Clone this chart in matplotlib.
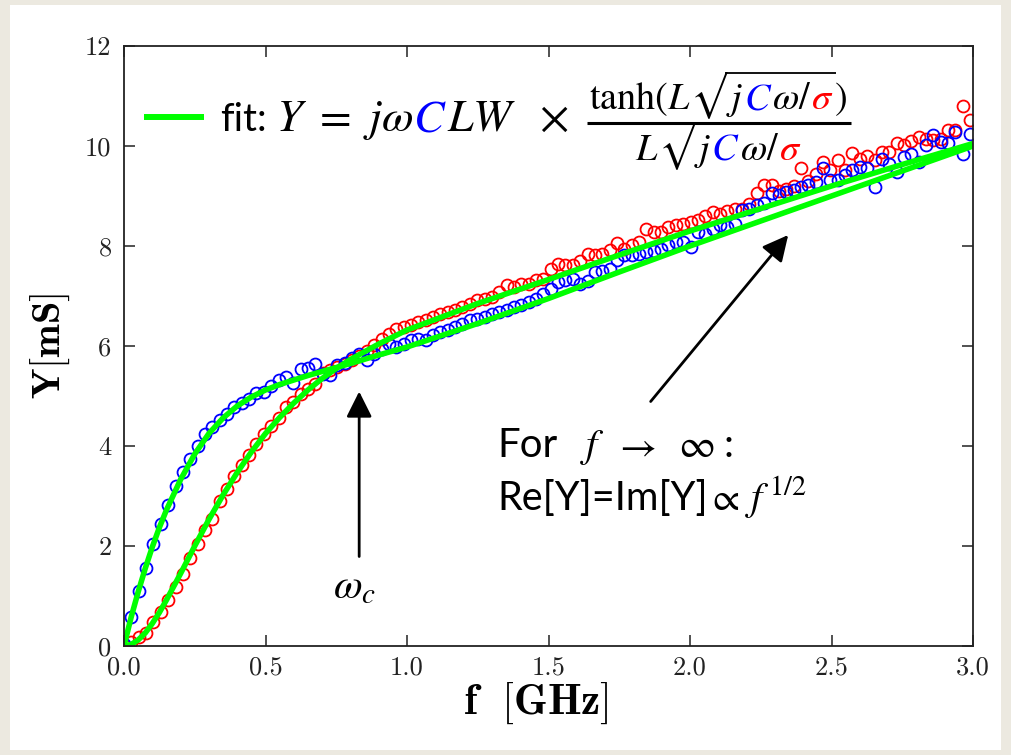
import numpy as np
import matplotlib
matplotlib.use('Agg')
import matplotlib.pyplot as plt
from matplotlib.lines import Line2D
from matplotlib.patches import Rectangle

plt.rcParams['mathtext.fontset'] = 'stix'

# frequency sweep [GHz]
freq = [0.000, 0.026, 0.052, 0.078, 0.104, 0.130, 0.156, 0.182, 0.208, 0.234,
        0.260, 0.286, 0.312, 0.338, 0.364, 0.390, 0.416, 0.442, 0.468, 0.494,
        0.520, 0.546, 0.572, 0.598, 0.624, 0.650, 0.676, 0.702, 0.728, 0.754,
        0.780, 0.806, 0.832, 0.858, 0.884, 0.910, 0.936, 0.962, 0.988, 1.014,
        1.040, 1.066, 1.092, 1.118, 1.144, 1.170, 1.196, 1.222, 1.248, 1.274,
        1.300, 1.326, 1.352, 1.378, 1.404, 1.430, 1.456, 1.482, 1.508, 1.534,
        1.560, 1.586, 1.612, 1.638, 1.664, 1.690, 1.716, 1.742, 1.768, 1.794,
        1.820, 1.846, 1.872, 1.898, 1.924, 1.950, 1.976, 2.002, 2.028, 2.054,
        2.080, 2.106, 2.132, 2.158, 2.184, 2.210, 2.236, 2.262, 2.288, 2.314,
        2.340, 2.366, 2.392, 2.418, 2.444, 2.470, 2.496, 2.522, 2.548, 2.574,
        2.600, 2.626, 2.652, 2.678, 2.704, 2.730, 2.756, 2.782, 2.808, 2.834,
        2.860, 2.886, 2.912, 2.938, 2.964, 2.990]

# measured admittance [mS]: real part (red) and imaginary part (blue)
re_y = [0.02, 0.09, 0.19, 0.27, 0.48, 0.68, 0.92, 1.19, 1.44, 1.77,
        2.04, 2.32, 2.55, 2.90, 3.15, 3.40, 3.62, 3.83, 4.04, 4.24,
        4.40, 4.56, 4.78, 4.88, 5.05, 5.15, 5.24, 5.47, 5.53, 5.59,
        5.65, 5.72, 5.80, 5.90, 6.02, 6.15, 6.25, 6.35, 6.39, 6.42,
        6.49, 6.52, 6.59, 6.65, 6.69, 6.72, 6.78, 6.85, 6.92, 6.95,
        6.99, 7.09, 7.22, 7.19, 7.25, 7.25, 7.32, 7.35, 7.55, 7.65,
        7.62, 7.62, 7.70, 7.85, 7.82, 7.85, 7.92, 8.05, 7.95, 8.02,
        8.09, 8.35, 8.29, 8.29, 8.39, 8.42, 8.45, 8.49, 8.52, 8.60,
        8.69, 8.65, 8.70, 8.75, 8.75, 8.85, 9.05, 9.22, 9.22, 9.10,
        9.15, 9.20, 9.55, 9.30, 9.45, 9.69, 9.52, 9.73, 9.52, 9.87,
        9.75, 9.80, 9.72, 9.89, 9.89, 10.07, 10.02, 10.10, 10.19, 10.15,
        10.12, 10.15, 10.32, 10.33, 10.80, 10.52]
im_y = [0.05, 0.59, 1.10, 1.57, 2.05, 2.45, 2.83, 3.21, 3.49, 3.75,
        4.00, 4.24, 4.39, 4.53, 4.64, 4.79, 4.87, 4.95, 5.07, 5.09,
        5.20, 5.33, 5.39, 5.27, 5.55, 5.57, 5.65, 5.45, 5.42, 5.62,
        5.66, 5.77, 5.84, 5.73, 5.85, 5.95, 6.05, 5.99, 6.04, 6.12,
        6.15, 6.12, 6.22, 6.29, 6.32, 6.39, 6.45, 6.52, 6.55, 6.59,
        6.65, 6.69, 6.72, 6.79, 6.82, 6.89, 6.95, 7.05, 7.15, 7.29,
        7.33, 7.35, 7.24, 7.30, 7.49, 7.50, 7.55, 7.72, 7.82, 7.83,
        7.85, 7.89, 7.90, 7.95, 8.02, 8.09, 8.09, 7.99, 8.29, 8.25,
        8.35, 8.42, 8.38, 8.45, 8.72, 8.75, 8.82, 8.86, 9.05, 9.02,
        9.09, 9.12, 9.19, 9.22, 9.29, 9.55, 9.32, 9.32, 9.42, 9.52,
        9.59, 9.55, 9.19, 9.75, 9.65, 9.49, 9.79, 9.85, 9.69, 10.02,
        10.22, 10.09, 10.05, 10.29, 9.85, 10.25]

# fitted transmission-line model, sampled
fit_f = [0.0, 0.025, 0.05, 0.075, 0.1, 0.125, 0.15, 0.2, 0.25, 0.3,
         0.35, 0.4, 0.45, 0.5, 0.55, 0.6, 0.65, 0.7, 0.75, 0.8,
         0.9, 1.0, 1.25, 1.5, 1.75, 2.0, 2.25, 2.5, 2.75, 3.0]
fit_re = [0.0, 0.03, 0.12, 0.26, 0.45, 0.67, 0.92, 1.45, 2.00, 2.53,
          3.02, 3.47, 3.88, 4.25, 4.57, 4.86, 5.12, 5.35, 5.55, 5.73,
          6.04, 6.32, 6.85, 7.33, 7.82, 8.30, 8.75, 9.20, 9.63, 10.05]
fit_im = [0.0, 0.57, 1.08, 1.55, 1.98, 2.37, 2.72, 3.33, 3.84, 4.25,
          4.56, 4.80, 4.98, 5.12, 5.23, 5.32, 5.41, 5.49, 5.57, 5.65,
          5.82, 5.98, 6.45, 6.95, 7.48, 8.00, 8.50, 9.00, 9.50, 10.00]

xticks = [0.0, 0.5, 1.0, 1.5, 2.0, 2.5, 3.0]
yticks = [0, 2, 4, 6, 8, 10, 12]

W, H = 1011, 755
GREEN = '#00ff00'
SANS = 'Lato'

fig = plt.figure(figsize=(W / 100, H / 100), dpi=100, facecolor='#ece9e0')
fig.patches.append(Rectangle((10 / W, 5 / H), 991 / W, 745 / H, transform=fig.transFigure,
                             facecolor='white', edgecolor='none', zorder=-5))

ax = fig.add_axes([124 / W, 1 - 646 / H, (973 - 124) / W, (646 - 46) / H])
ax.plot(freq, re_y, 'o', ms=8.6, mfc='none', mec='red', mew=1.3)
ax.plot(freq, im_y, 'o', ms=8.6, mfc='none', mec='blue', mew=1.3)
ax.plot(fit_f, fit_re, color=GREEN, lw=4, solid_capstyle='butt')
ax.plot(fit_f, fit_im, color=GREEN, lw=4, solid_capstyle='butt')

ax.set_xlim(0, 3)
ax.set_ylim(0, 12)
ax.set_xticks(xticks, labels=['%.1f' % v for v in xticks], fontfamily='cmr10', fontsize=19)
ax.set_yticks(yticks, labels=['%d' % v for v in yticks], fontfamily='cmr10', fontsize=19)
ax.tick_params(direction='in', length=8, width=1.1, top=True, right=True, colors='#222222')
ax.tick_params(axis='x', pad=7)
ax.tick_params(axis='y', pad=9)
for sp in ax.spines.values():
    sp.set_linewidth(1.3)
    sp.set_color('#222222')

ax.set_xlabel(r'$\mathbf{f}\ \ \mathbf{[GHz]}$', fontsize=31, math_fontfamily='cm', labelpad=1)
ax.xaxis.label.set_x(0.485)
ax.set_ylabel(r'$\mathbf{Y[mS]}$', fontsize=29, math_fontfamily='cm', labelpad=9)

# arrows
head = '-|>,head_length=0.6,head_width=0.3'
ax.annotate('', xy=(0.831, 5.09), xytext=(0.831, 1.79),
            arrowprops=dict(arrowstyle=head, color='k', lw=2, mutation_scale=26,
                            shrinkA=0, shrinkB=0))
ax.annotate('', xy=(2.347, 8.22), xytext=(1.861, 4.89),
            arrowprops=dict(arrowstyle=head, color='k', lw=2, mutation_scale=26,
                            shrinkA=0, shrinkB=0))

renderer = fig.canvas.get_renderer()


def fpos(x, y):
    return x / W, 1 - y / H


def run_text(x, y, pieces, size):
    arts = []
    for s, c in pieces:
        kw = {'family': 'STIXGeneral'} if s == '\u221a' else {}
        t = fig.text(*fpos(x, y), s, color=c, fontsize=size, va='baseline', ha='left', **kw)
        x += t.get_window_extent(renderer).width
        arts.append(t)
    return arts, x


def fig_line(x0, x1, y, lw):
    # y given in display pixels from the bottom
    fig.add_artist(Line2D([x0 / W, x1 / W], [y / H, y / H], transform=fig.transFigure,
                          color='k', lw=lw, solid_capstyle='butt'))


def overbar(t_root, t_end):
    b0 = t_root.get_window_extent(renderer)
    b1 = t_end.get_window_extent(renderer)
    fig_line(b0.x1 - 1.5, b1.x1 + 2, b0.y1 - 1, 1.3)


# legend entry with the model expression
fig.add_artist(Line2D([144 / W, 204 / W], [1 - 117 / H] * 2, transform=fig.transFigure,
                      color=GREEN, lw=4.3, solid_capstyle='butt'))
fig.text(*fpos(220, 131), 'fit:', fontsize=28, family=SANS, va='baseline')
run_text(276, 131, [(r'$Y\ =\ j\omega$', 'k'), (r'$C$', 'blue'), (r'$LW\ \ \times$', 'k')], 33)

frac_size = 27.5
num = [(r'$\mathrm{tanh}(L$', 'k'), ('\u221a', 'k'), (r'$j$', 'k'), (r'$C$', 'blue'),
       (r'$\omega/$', 'k'), (r'$\sigma$', 'red'), (r'$)$', 'k')]
den = [(r'$L$', 'k'), ('\u221a', 'k'), (r'$j$', 'k'), (r'$C$', 'blue'),
       (r'$\omega/$', 'k'), (r'$\sigma$', 'red')]
x_num0 = 589
num_t, x_num1 = run_text(x_num0, 109, num, frac_size)
den_t, x_den1 = run_text(0, 160, den, frac_size)
shift = (x_num0 + x_num1) / 2 - x_den1 / 2
for t in den_t:
    px0, py0 = t.get_position()
    t.set_x(px0 + shift / W)
overbar(num_t[1], num_t[5])
overbar(den_t[1], den_t[5])
fig_line(x_num0 - 2, x_num1 + 4, H - 123, 2.2)

# annotations
fig.text(*fpos(333, 598), r'$\omega_c$', fontsize=30, va='baseline')
fig.text(*fpos(497, 457), 'For', fontsize=29, family=SANS, va='baseline')
fig.text(*fpos(580, 457), r'$f$', fontsize=29, va='baseline')
fig.text(*fpos(614, 457), r'$\rightarrow$', fontsize=29, va='baseline')
fig.text(*fpos(678, 457), r'$\infty$', fontsize=29, va='baseline')
fig.text(*fpos(724, 457), ':', fontsize=29, family=SANS, va='baseline')
fig.text(*fpos(497, 510), 'Re[Y]=Im[Y]', fontsize=28.5, family=SANS, va='baseline')
fig.text(*fpos(707, 510), r'$\propto$', fontsize=28, va='baseline')
fig.text(*fpos(745, 510), r'$f^{\,1/2}$', fontsize=29, va='baseline')

fig.savefig('out.png', dpi=100, facecolor=fig.get_facecolor())
